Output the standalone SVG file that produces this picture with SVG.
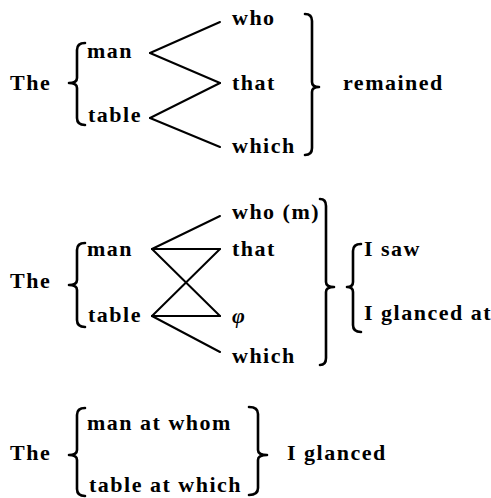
<svg xmlns="http://www.w3.org/2000/svg" width="491" height="498" viewBox="0 0 491 498">
<style>
text{font-family:'Liberation Serif','DejaVu Serif',serif;font-weight:bold;font-size:22px;letter-spacing:1.5px;fill:#000}
.br{fill:none;stroke:#000;stroke-width:2.6;stroke-linejoin:round;stroke-linecap:round}
.ln{stroke:#000;stroke-width:2;stroke-linecap:round}
</style>
<rect width="491" height="498" fill="#fff"/>
<g id="s1-the"><text x="10" y="90">The</text></g>
<g id="s1-brace"><path class="br" d="M85,43 Q77,43 77,50 L77,78 Q77,83 69,83 Q77,83 77,88 L77,118 Q77,125 85,125"/></g>
<g id="s1-man"><text x="87" y="58">man</text></g>
<g id="s1-table"><text x="88" y="122">table</text></g>
<g id="s1-who"><text x="232" y="25">who</text></g>
<g id="s1-that"><text x="232" y="90">that</text></g>
<g id="s1-which"><text x="232" y="153">which</text></g>
<g id="s1-bracket"><path class="br" d="M305,14 Q312,14 312,21 L312,82 Q312,87 319,87 Q312,87 312,92 L312,148 Q312,155 305,155"/></g>
<g id="s1-remained"><text x="343" y="90">remained</text></g>

<g id="s2-the"><text x="10" y="288">The</text></g>
<g id="s2-brace"><path class="br" d="M85,243 Q77,243 77,250 L77,280 Q77,285 69,285 Q77,285 77,290 L77,320 Q77,327 85,327"/></g>
<g id="s2-man"><text x="87" y="256">man</text></g>
<g id="s2-table"><text x="88" y="322">table</text></g>
<g id="s2-who"><text x="232" y="219">who (m)</text></g>
<g id="s2-that"><text x="232" y="256">that</text></g>
<g id="s2-phi"><text x="232" y="323" font-style="italic">φ</text></g>
<g id="s2-which"><text x="232" y="363">which</text></g>
<g id="s2-bracket"><path class="br" d="M320,199 Q326,199 326,206 L326,282 Q326,287 334,287 Q326,287 326,292 L326,358 Q326,365 320,365"/></g>
<g id="s2-brace2"><path class="br" d="M361,244 Q353,244 353,251 L353,282 Q353,287 347,287 Q353,287 353,292 L353,325 Q353,332 361,332"/></g>
<g id="s2-isaw"><text x="364" y="256">I saw</text></g>
<g id="s2-iglancedat"><text x="364" y="320">I glanced at</text></g>

<g id="s3-the"><text x="10" y="460">The</text></g>
<g id="s3-brace"><path class="br" d="M85,408 Q77,408 77,415 L77,450 Q77,455 69,455 Q77,455 77,460 L77,489 Q77,496 85,496"/></g>
<g id="s3-man"><text x="87" y="430">man at whom</text></g>
<g id="s3-table"><text x="89" y="492">table at which</text></g>
<g id="s3-bracket"><path class="br" d="M249,407 Q258,407 258,414 L258,450 Q258,455 267,455 Q258,455 258,460 L258,488 Q258,495 249,495"/></g>
<g id="s3-iglanced"><text x="287" y="460">I glanced</text></g>

<g id="connectors">
<line class="ln" x1="150" y1="53" x2="220" y2="22"/>
<line class="ln" x1="150" y1="53" x2="220" y2="83"/>
<line class="ln" x1="150" y1="118" x2="220" y2="83"/>
<line class="ln" x1="150" y1="118" x2="220" y2="147"/>
<line class="ln" x1="152" y1="249" x2="220" y2="216"/>
<line class="ln" x1="152" y1="249" x2="220" y2="249"/>
<line class="ln" x1="152" y1="249" x2="220" y2="316"/>
<line class="ln" x1="152" y1="316" x2="220" y2="249"/>
<line class="ln" x1="152" y1="316" x2="220" y2="316"/>
<line class="ln" x1="152" y1="316" x2="220" y2="352"/>
</g>
</svg>
